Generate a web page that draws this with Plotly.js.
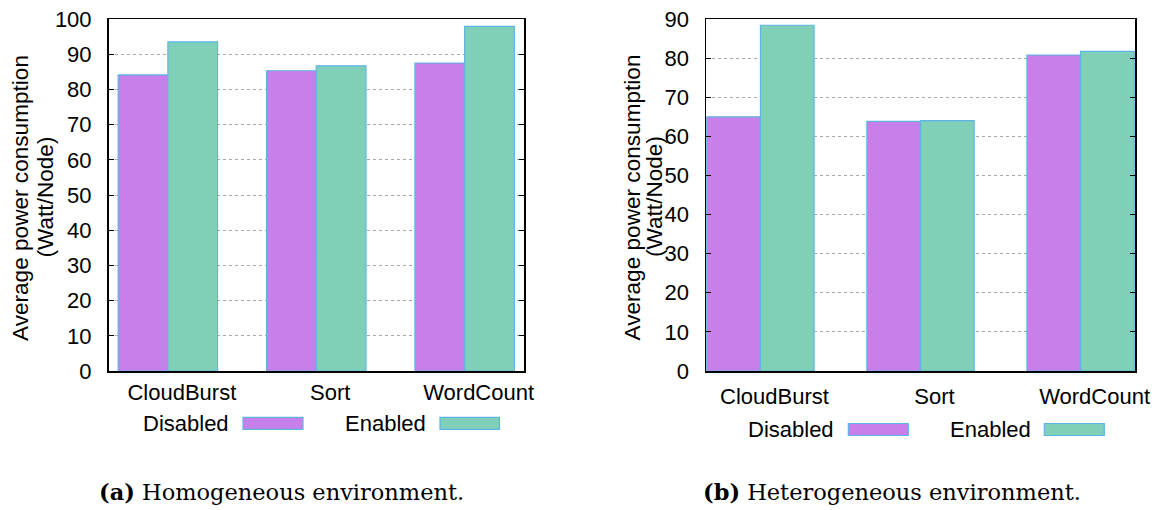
<!DOCTYPE html>
<html>
<head>
<meta charset="utf-8">
<script src="https://cdn.plot.ly/plotly-3.0.1.min.js"></script>
<style>
html, body { margin: 0; padding: 0; background: #ffffff; }
#chart { width: 1161px; height: 510px; }
</style>
</head>
<body>
<div id="chart"></div>
<script>
// ---- data ----
const categories = ['CloudBurst', 'Sort', 'WordCount'];
const seriesNames = ['Disabled', 'Enabled'];
const homoDisabled = [84.1, 85.3, 87.5];
const homoEnabled = [93.5, 86.7, 97.9];
const heteroDisabled = [65.0, 63.8, 80.8];
const heteroEnabled = [88.4, 64.0, 81.7];
const homoTicks = [0, 10, 20, 30, 40, 50, 60, 70, 80, 90, 100];
const heteroTicks = [0, 10, 20, 30, 40, 50, 60, 70, 80, 90];
const yTitleLines = ['Average power consumption', '(Watt/Node)'];
const captions = ['<b>(a)</b> Homogeneous environment.', '<b>(b)</b> Heterogeneous environment.'];

// ---- style ----
const W = 1161, H = 510;
const px = v => v / W;
const py = v => 1 - v / H;
const colDisabled = '#c77fe9';
const colEnabled = '#80cfb9';
const colEdge = '#5cb5e6';
const sans = 'Liberation Sans, Arial, sans-serif';
const serif = 'DejaVu Serif, serif';
const fs = 22;

function bar(x, y, name, color, xa, ya) {
  return {
    type: 'bar', x: x, y: y, name: name, xaxis: xa, yaxis: ya,
    marker: { color: color, line: { color: colEdge, width: 1.2 } },
    showlegend: false, hoverinfo: 'skip'
  };
}

const data = [
  bar(categories, homoDisabled, seriesNames[0], colDisabled, 'x', 'y'),
  bar(categories, homoEnabled, seriesNames[1], colEnabled, 'x', 'y'),
  bar(categories, heteroDisabled, seriesNames[0], colDisabled, 'x2', 'y2'),
  bar(categories, heteroEnabled, seriesNames[1], colEnabled, 'x2', 'y2')
];

function xAxis(domain, anchor, range, standoff) {
  return {
    domain: domain, anchor: anchor, type: 'category', range: range,
    showline: true, linecolor: '#000', linewidth: 1.5, mirror: true,
    ticks: '', showgrid: false, zeroline: false,
    tickfont: { family: sans, size: fs, color: '#000' },
    ticklabelshift: 14, ticklabelstandoff: standoff, fixedrange: true
  };
}
function yAxis(domain, anchor, range, ticks) {
  return {
    domain: domain, anchor: anchor, range: range,
    tickvals: ticks, ticktext: ticks.map(String),
    showline: true, linecolor: '#000', linewidth: 1.5, mirror: 'ticks',
    ticks: 'inside', ticklen: 5, tickwidth: 1, tickcolor: '#000',
    showgrid: true, gridcolor: '#a8a8a8', griddash: 'dot', gridwidth: 1,
    zeroline: false,
    tickfont: { family: sans, size: fs, color: '#000' },
    ticklabelstandoff: 11, fixedrange: true
  };
}

const yDom = [py(371), py(19)];

const annotations = [];
function addYTitle(x1, x2) {
  annotations.push({ xref: 'paper', yref: 'paper', x: px(x1), y: py(198), text: yTitleLines[0],
    textangle: -90, showarrow: false, xanchor: 'center', yanchor: 'middle',
    font: { family: sans, size: 22.6, color: '#000' } });
  annotations.push({ xref: 'paper', yref: 'paper', x: px(x2), y: py(197), text: yTitleLines[1],
    textangle: -90, showarrow: false, xanchor: 'center', yanchor: 'middle',
    font: { family: sans, size: 22.6, color: '#000' } });
}
addYTitle(21, 45.5);
addYTitle(632.5, 655);

function addLegendText(xRight, yMid, txt) {
  annotations.push({ xref: 'paper', yref: 'paper', x: px(xRight), y: py(yMid), text: txt,
    showarrow: false, xanchor: 'right', yanchor: 'middle',
    font: { family: sans, size: fs, color: '#000' } });
}
addLegendText(231, 423, seriesNames[0]);
addLegendText(427.5, 423, seriesNames[1]);
addLegendText(836, 429.5, seriesNames[0]);
addLegendText(1032.5, 429.5, seriesNames[1]);

annotations.push({ xref: 'paper', yref: 'paper', x: px(281), y: py(492), text: captions[0],
  showarrow: false, xanchor: 'center', yanchor: 'middle', font: { family: serif, size: 22.5, color: '#000' } });
annotations.push({ xref: 'paper', yref: 'paper', x: px(892), y: py(492), text: captions[1],
  showarrow: false, xanchor: 'center', yanchor: 'middle', font: { family: serif, size: 22.5, color: '#000' } });

function swatch(x0, x1, y0, y1, color) {
  return { type: 'rect', xref: 'paper', yref: 'paper', x0: px(x0), x1: px(x1), y0: py(y1), y1: py(y0),
    fillcolor: color, line: { color: colEdge, width: 1.2 } };
}
const shapes = [
  swatch(243, 303, 417.3, 429.3, colDisabled),
  swatch(440, 499.5, 417.3, 429.3, colEnabled),
  swatch(848.3, 908.3, 423.5, 435.5, colDisabled),
  swatch(1044.3, 1104.3, 423.5, 435.5, colEnabled)
];

const layout = {
  width: W, height: H,
  margin: { l: 0, r: 0, t: 0, b: 0 },
  paper_bgcolor: '#fff', plot_bgcolor: '#fff',
  barmode: 'group', bargap: 0.33, bargroupgap: 0,
  showlegend: false,
  xaxis: xAxis([px(108.5), px(524)], 'y', [-0.4, 2.4], 1),
  yaxis: yAxis(yDom, 'x', [0, 100], homoTicks),
  xaxis2: xAxis([px(706), px(1135)], 'y2', [-0.34, 2.34], 5),
  yaxis2: yAxis(yDom, 'x2', [0, 90], heteroTicks),
  annotations: annotations,
  shapes: shapes
};

Plotly.newPlot('chart', data, layout, { displayModeBar: false, staticPlot: true });
</script>
</body>
</html>
